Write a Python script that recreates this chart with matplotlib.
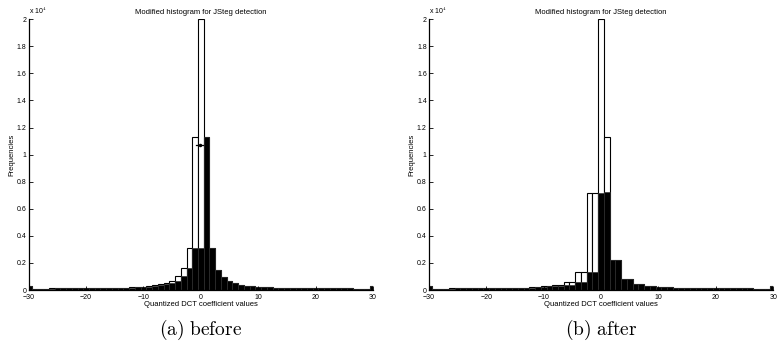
import numpy as np
import matplotlib.pyplot as plt
from matplotlib.ticker import FuncFormatter

plt.rcParams['font.family'] = 'Liberation Sans'
plt.rcParams['mathtext.fontset'] = 'cm'

coeffs = np.arange(-30, 31)

# counts per coefficient value, -30 .. 30
before_white = [280, 110, 110, 112, 115, 118, 120, 122, 125, 128,
                130, 135, 140, 145, 150, 160, 170, 180, 200, 220,
                250, 290, 340, 410, 510, 700, 1000, 1650, 3100, 11300,
                20000, 11300, 3100, 1500, 950, 680, 500, 400, 330, 280, 250,
                220, 200, 180, 170, 160, 150, 145, 140, 135, 130,
                128, 125, 122, 120, 118, 115, 112, 110, 110, 260]
before_black = [260, 105, 110, 110, 112, 115, 118, 120, 122, 125,
                128, 130, 135, 140, 145, 150, 160, 170, 180, 200,
                220, 250, 290, 340, 410, 510, 700, 1000, 1650, 3100,
                3100, 11300, 3100, 1500, 950, 680, 500, 400, 330, 280, 250,
                220, 200, 180, 170, 160, 150, 145, 140, 135, 130,
                128, 125, 122, 120, 118, 115, 112, 110, 110, 260]

after_white = [280, 110, 110, 112, 115, 118, 120, 122, 125, 128,
               130, 135, 140, 145, 150, 160, 170, 180, 200, 220,
               260, 270, 350, 370, 600, 580, 1300, 1350, 7150, 7200,
               20000, 11300, 2200, 2250, 780, 800, 420, 440, 300, 290, 240,
               220, 190, 180, 165, 160, 150, 145, 140, 135, 130,
               128, 125, 122, 120, 118, 115, 112, 110, 110, 260]
after_black = [260, 105, 110, 110, 112, 115, 118, 120, 122, 125,
               128, 130, 135, 140, 145, 150, 160, 170, 180, 200,
               220, 260, 260, 270, 350, 370, 600, 580, 1300, 1350,
               7150, 7250, 2200, 2250, 780, 800, 420, 440, 300, 290, 240,
               220, 190, 180, 165, 160, 150, 145, 140, 135, 130,
               128, 125, 122, 120, 118, 115, 112, 110, 110, 260]

panels = [
    ('(a)\\ before', before_white, before_black),
    ('(b)\\ after', after_white, after_black),
]

fig = plt.figure(figsize=(7.77, 3.49), dpi=100)
lefts = [0.037, 0.552]
width = 0.443

for left, (cap, white, black) in zip(lefts, panels):
    ax = fig.add_axes([left, 0.169, width, 0.776])
    ax.bar(coeffs, white, width=1.0, color='white', edgecolor='black',
           linewidth=0.8)
    ax.bar(coeffs, black, width=1.0, color='black', edgecolor='#333333',
           linewidth=0.5)
    ax.set_xlim(-30, 30)
    ax.set_ylim(0, 20000)
    ax.set_xticks(np.arange(-30, 31, 10))
    ax.set_yticks(np.arange(0, 20001, 2000))
    ax.yaxis.set_major_formatter(FuncFormatter(lambda v, p: f'{v / 1e4:g}'))
    ax.tick_params(direction='in', length=3, width=0.6, labelsize=5, pad=1.5)
    ax.tick_params(axis='x', pad=3)
    for s in ['top', 'right']:
        ax.spines[s].set_visible(False)
    ax.spines['left'].set_linewidth(0.9)
    ax.spines['bottom'].set_linewidth(0.9)
    ax.set_title('Modified histogram for JSteg detection', fontsize=5.5, pad=4)
    ax.set_xlabel('Quantized DCT coefficient values', fontsize=5.5, labelpad=0)
    ax.set_ylabel('Frequencies', fontsize=5.5, labelpad=1)
    ax.text(0.0, 1.01, 'x 10$^{4}$', transform=ax.transAxes, fontsize=5,
            ha='left', va='bottom')
    fig.text(left + width / 2, 0.055, '$\\mathrm{' + cap + '}$',
             fontsize=14, ha='center', va='center')

# small marker in the first panel
ax0 = fig.axes[0]
ax0.plot([-0.8, 0.4], [10700, 10700], color='black', lw=0.9)
ax0.plot([-0.2], [10700], 'k.', ms=3)

plt.savefig('out.png', dpi=100)
